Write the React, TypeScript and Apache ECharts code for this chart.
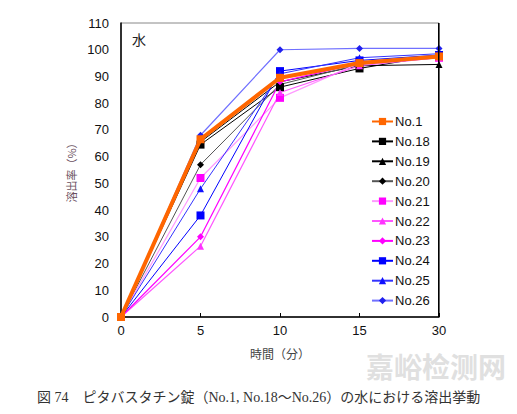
import React, { useEffect, useRef } from "react";
import * as echarts from "echarts";

const timeLabels = ["0", "5", "10", "15", "30"];
const seriesNames = ["No.1", "No.18", "No.19", "No.20", "No.21", "No.22", "No.23", "No.24", "No.25", "No.26"];
const no1 = [0, 66.5, 89.5, 95, 97.5];
const no18 = [0, 64.5, 86, 93, 98];
const no19 = [0, 65.5, 88, 94, 94.5];
const no20 = [0, 57, 87, 94.5, 97];
const no21 = [0, 52, 82, 95, 97];
const no22 = [0, 26.5, 84, 94, 97];
const no23 = [0, 30, 88, 95, 97.5];
const no24 = [0, 38, 92, 96, 98];
const no25 = [0, 48, 91, 97, 98.5];
const no26 = [0, 68, 100, 100.5, 100.5];
const yTicks = { min: 0, max: 110, interval: 10 };

const styles: Record<string, { data: number[]; line: string; marker: string; symbol: string; size: number; width: number }> = {
  "No.1": { data: no1, line: "#ff6600", marker: "#ff6600", symbol: "rect", size: 8, width: 4 },
  "No.18": { data: no18, line: "#000000", marker: "#000000", symbol: "rect", size: 8, width: 1 },
  "No.19": { data: no19, line: "#000000", marker: "#000000", symbol: "triangle", size: 7, width: 1 },
  "No.20": { data: no20, line: "#555555", marker: "#000000", symbol: "diamond", size: 7, width: 1 },
  "No.21": { data: no21, line: "#ff99ff", marker: "#ff00ff", symbol: "rect", size: 8, width: 1.2 },
  "No.22": { data: no22, line: "#ff55ff", marker: "#ff33ff", symbol: "triangle", size: 7, width: 1.2 },
  "No.23": { data: no23, line: "#ff00ff", marker: "#ff00ff", symbol: "diamond", size: 7, width: 1.2 },
  "No.24": { data: no24, line: "#0000ff", marker: "#0000ff", symbol: "rect", size: 8, width: 1 },
  "No.25": { data: no25, line: "#3333ff", marker: "#1111ff", symbol: "triangle", size: 7, width: 1 },
  "No.26": { data: no26, line: "#7070ff", marker: "#2020ee", symbol: "diamond", size: 7, width: 1.2 },
};

const drawOrder = ["No.18", "No.19", "No.20", "No.21", "No.22", "No.23", "No.24", "No.25", "No.26", "No.1"];

export default function App() {
  const ref = useRef<HTMLDivElement>(null);
  useEffect(() => {
    if (!ref.current) return;
    const chart = echarts.init(ref.current, null, { renderer: "svg" });
    const series = drawOrder.map((name) => {
      const s = styles[name];
      return {
        name,
        type: "line",
        data: s.data,
        symbol: s.symbol,
        symbolSize: s.size,
        showSymbol: true,
        lineStyle: { color: s.line, width: s.width },
        itemStyle: { color: s.marker },
        z: name === "No.1" ? 3 : 2,
      };
    });
    chart.setOption({
      animation: false,
      backgroundColor: "#ffffff",
      grid: {
        left: 121,
        right: 78,
        top: 23,
        bottom: 97,
        show: true,
        borderColor: "#888888",
        borderWidth: 1,
      },
      xAxis: {
        type: "category",
        data: timeLabels,
        boundaryGap: false,
        name: "時間（分）",
        nameLocation: "middle",
        nameGap: 30,
        nameTextStyle: { color: "#444444", fontSize: 12, fontFamily: "Noto Sans CJK JP" },
        axisLine: { lineStyle: { color: "#000000", width: 1.5 } },
        axisTick: { inside: true, length: 4, lineStyle: { color: "#000000" } },
        axisLabel: { color: "#111111", fontSize: 13, fontFamily: "Liberation Sans", margin: 7 },
        splitLine: { show: false },
      },
      yAxis: {
        type: "value",
        min: yTicks.min,
        max: yTicks.max,
        interval: yTicks.interval,
        name: "溶出率（%）",
        nameLocation: "middle",
        nameGap: 42,
        nameTextStyle: { color: "#6a5060", fontSize: 11, fontFamily: "Noto Sans CJK JP" },
        axisLine: { show: true, lineStyle: { color: "#000000", width: 1.5 } },
        axisTick: { show: false },
        axisLabel: { color: "#111111", fontSize: 13, fontFamily: "Liberation Sans", margin: 12 },
        splitLine: { show: false },
      },
      legend: {
        orient: "vertical",
        left: 371,
        top: 115,
        itemWidth: 21,
        itemHeight: 9,
        itemGap: 6.9,
        padding: 0,
        data: seriesNames,
        textStyle: { color: "#111111", fontSize: 13, fontFamily: "Liberation Sans", padding: [0, 0, 0, -3] },
      },
      graphic: [
        {
          type: "rect",
          left: 438,
          top: 23,
          shape: { width: 1.5, height: 294 },
          style: { fill: "#000000" },
          z: 10,
        },
        {
          type: "text",
          left: 132,
          top: 32,
          style: { text: "水", fontSize: 14, fill: "#222222", fontFamily: "Noto Sans CJK JP" },
        },
        {
          type: "text",
          left: 366,
          top: 352,
          style: { text: "嘉峪检测网", fontSize: 28, fontWeight: "bold", fill: "#e0e0e0", fontFamily: "Noto Sans CJK SC" },
          z: 0,
        },
        {
          type: "text",
          left: 37,
          top: 390,
          style: {
            text: "図 74　ピタバスタチン錠（No.1, No.18～No.26）の水における溶出挙動",
            fontSize: 14,
            fill: "#333333",
            fontFamily: "Liberation Serif, Noto Sans CJK JP",
          },
          z: 5,
        },
      ],
      series,
    });
    return () => chart.dispose();
  }, []);
  return <div ref={ref} style={{ position: "fixed", left: 0, top: 0, width: 517, height: 414 }} />;
}
